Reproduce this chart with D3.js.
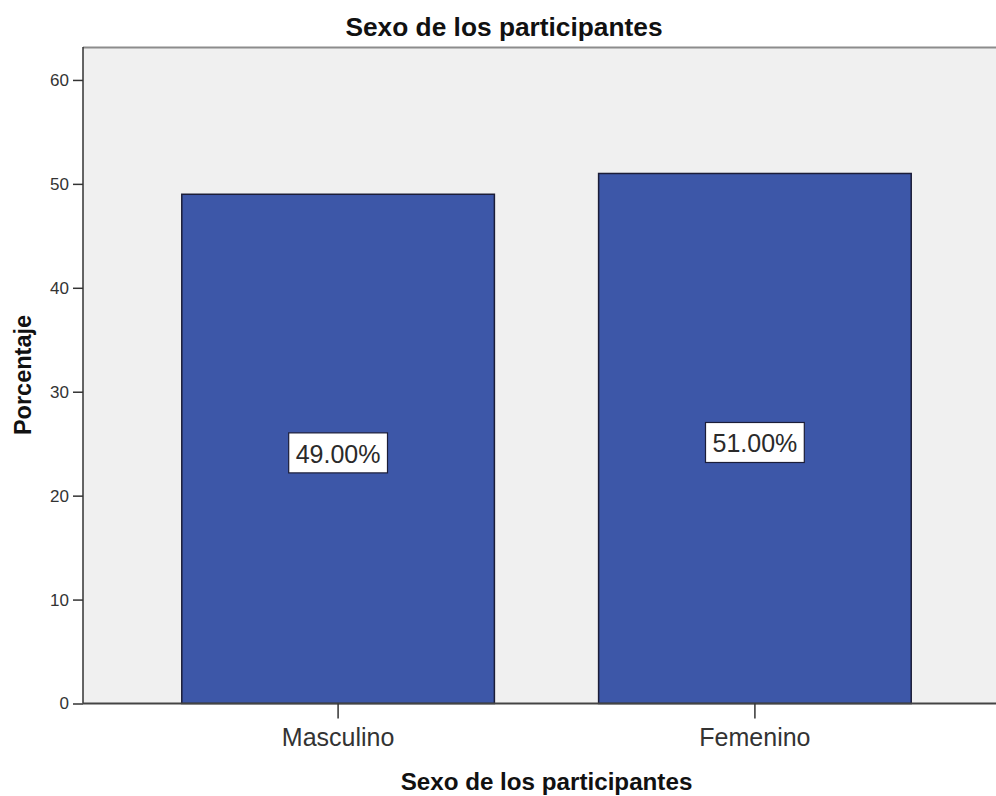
<!DOCTYPE html>
<html><head><meta charset="utf-8">
<script src="https://cdn.jsdelivr.net/npm/d3@7"></script>
<style>body{margin:0;background:#fff;}svg{display:block;font-family:Arial,"Liberation Sans",sans-serif;}</style>
</head><body>
<svg id="c" width="996" height="796"></svg>
<script>
const categories = ["Masculino", "Femenino"];
const percentages = [49.0, 51.0];
const labels = ["49.00%", "51.00%"];
const yTicks = [0, 10, 20, 30, 40, 50, 60];
const title = "Sexo de los participantes";
const xTitle = "Sexo de los participantes";
const yTitle = "Porcentaje";

const svg = d3.select("#c");
const L = 83, R = 1010, T = 47, B = 703.5;
const x = d3.scaleBand().domain(categories).range([L, R]).paddingInner(0.25).paddingOuter(0.237);
const y = d3.scaleLinear().domain([0, 63.17]).range([B, T]);

// plot background
svg.append("rect").attr("x", L).attr("y", T).attr("width", 996 - L).attr("height", B - T).attr("fill", "#f0f0f0");
svg.append("line").attr("x1", L).attr("x2", 996).attr("y1", T + 0.5).attr("y2", T + 0.5).attr("stroke", "#8c8c8c").attr("stroke-width", 2);

// bars
svg.selectAll("rect.bar").data(categories).enter().append("rect").attr("class", "bar")
  .attr("x", d => x(d)).attr("width", x.bandwidth())
  .attr("y", (d, i) => y(percentages[i])).attr("height", (d, i) => y(0) - y(percentages[i]))
  .attr("fill", "#3d57a8").attr("stroke", "#1b1d38").attr("stroke-width", 1.5);

// y axis
const yAxis = svg.append("g").attr("transform", `translate(${L},0)`)
  .call(d3.axisLeft(y).tickValues(yTicks).tickSize(10).tickPadding(4));
yAxis.select(".domain").attr("stroke", "#333").attr("stroke-width", 1.5).attr("d", `M0,${T}V${B}`);
yAxis.selectAll(".tick line").attr("stroke", "#333").attr("stroke-width", 1.5);
yAxis.selectAll(".tick text").attr("font-size", 17).attr("fill", "#333").attr("font-family", "Arial,'Liberation Sans',sans-serif");

// x axis
const xAxis = svg.append("g").attr("transform", `translate(0,${B})`)
  .call(d3.axisBottom(x).tickSize(15).tickPadding(10));
xAxis.select(".domain").attr("stroke", "#444").attr("stroke-width", 2).attr("d", `M${L},0H996`);
xAxis.selectAll(".tick line").attr("stroke", "#333").attr("stroke-width", 1.5);
xAxis.selectAll(".tick text").attr("font-size", 25).attr("fill", "#333").attr("font-family", "Arial,'Liberation Sans',sans-serif");

// value labels
categories.forEach((c, i) => {
  const cx = x(c) + x.bandwidth() / 2;
  const cy = y(percentages[i] / 2) + 4;
  const g = svg.append("g");
  const rect = g.append("rect").attr("fill", "#fff").attr("stroke", "#1b1d38").attr("stroke-width", 1.2);
  const t = g.append("text").attr("x", cx).attr("y", cy + 10).attr("text-anchor", "middle")
    .attr("font-size", 25).attr("fill", "#2a2a2a").text(labels[i]);
  const bb = t.node().getBBox();
  rect.attr("x", cx - bb.width / 2 - 7).attr("width", bb.width + 14).attr("y", cy - 20).attr("height", 40);
});

// titles
svg.append("text").attr("x", 504).attr("y", 36).attr("text-anchor", "middle")
  .attr("font-size", 26.3).attr("font-weight", "bold").attr("fill", "#111").text(title);
svg.append("text").attr("x", (L + R) / 2).attr("y", 790).attr("text-anchor", "middle")
  .attr("font-size", 24.2).attr("font-weight", "bold").attr("fill", "#111").text(xTitle);
svg.append("text").attr("transform", "translate(31,375) rotate(-90)").attr("text-anchor", "middle")
  .attr("font-size", 23.5).attr("font-weight", "bold").attr("fill", "#111").text(yTitle);
</script>
</body></html>
